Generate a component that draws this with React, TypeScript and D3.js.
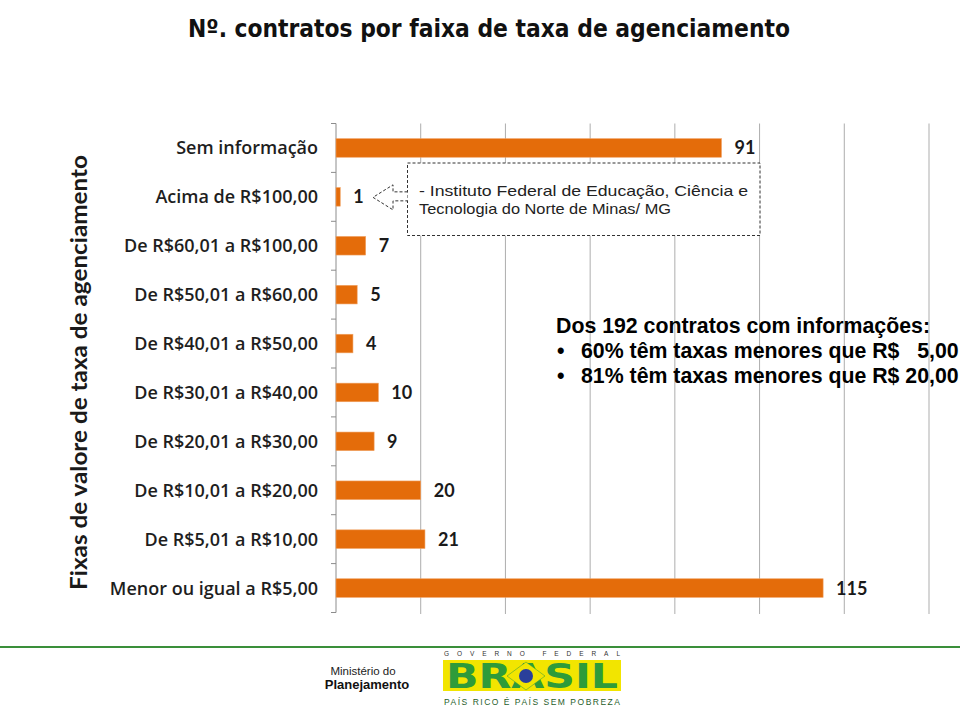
import React from "react";
import * as d3 from "d3";

const categories = [
  "Sem informação",
  "Acima de R$100,00",
  "De R$60,01 a R$100,00",
  "De R$50,01 a R$60,00",
  "De R$40,01 a R$50,00",
  "De R$30,01 a R$40,00",
  "De R$20,01 a R$30,00",
  "De R$10,01 a R$20,00",
  "De R$5,01 a R$10,00",
  "Menor ou igual a R$5,00",
];
const values = [91, 1, 7, 5, 4, 10, 9, 20, 21, 115];
const gridTicks = [0, 20, 40, 60, 80, 100, 120, 140];

const titleText = "Nº. contratos por faixa de taxa de agenciamento";
const axisTitle = "Fixas de valore de taxa de agenciamento";
const calloutLines = [
  "-  Instituto Federal de Educação, Ciência e",
  "Tecnologia do Norte de Minas/ MG",
];
const noteHeader = "Dos 192 contratos com informações:";
const noteBullets = [
  "60% têm taxas menores que R$\u00a0\u00a0 5,00",
  "81% têm taxas menores que R$ 20,00",
];

export default function App() {
  const x = d3.scaleLinear().domain([0, 140]).range([336, 929]);
  const y = d3
    .scaleBand<string>()
    .domain(categories)
    .range([123.5, 612.5])
    .paddingInner(0.62)
    .paddingOuter(0.31);
  const step = y.step();
  const boundaries = d3.range(categories.length + 1).map((i) => 123.5 + i * step);
  const barColor = "#E46C0A";
  const calloutIdx = 1;
  const cy = (y(categories[calloutIdx]) as number) + y.bandwidth() / 2;

  return (
    <svg
      width={960}
      height={706}
      style={{ position: "absolute", left: 0, top: 0, background: "#fff" }}
    >
      <rect x={0} y={0} width={960} height={706} fill="#fff" />
      {/* Title */}
      <text
        x={188}
        y={37}
        fontFamily="'DejaVu Sans Condensed', 'DejaVu Sans', sans-serif"
        fontWeight="bold"
        fontSize={24.5}
        textLength={602}
        lengthAdjust="spacingAndGlyphs"
        fill="#111"
      >
        {titleText}
      </text>

      {/* gridlines */}
      {gridTicks.slice(1).map((t) => (
        <line
          key={t}
          x1={x(t)}
          x2={x(t)}
          y1={123.5}
          y2={614}
          stroke="#adadad"
          strokeWidth={1}
        />
      ))}
      {/* axis */}
      <line x1={x(0)} x2={x(0)} y1={123.5} y2={612.5} stroke="#8c8c8c" strokeWidth={1} />
      {boundaries.map((b, i) => (
        <line key={i} x1={x(0) - 5} x2={x(0)} y1={b} y2={b} stroke="#8c8c8c" strokeWidth={1} />
      ))}

      {/* bars */}
      {categories.map((c, i) => (
        <rect
          key={c}
          x={x(0)}
          y={y(c) as number}
          width={x(values[i]) - x(0)}
          height={y.bandwidth()}
          fill={barColor}
          stroke="#F0A060"
          strokeWidth={0.6}
        />
      ))}
      {/* value labels */}
      {categories.map((c, i) => (
        <text
          key={c + "v"}
          x={x(values[i]) + 13}
          y={(y(c) as number) + y.bandwidth() / 2}
          dy="0.36em"
          fontFamily="Lato, sans-serif"
          fontWeight="bold"
          fontSize={18}
          fill="#1a1a1a"
        >
          {values[i]}
        </text>
      ))}
      {/* category labels */}
      {categories.map((c) => (
        <text
          key={c + "c"}
          x={318}
          y={(y(c) as number) + y.bandwidth() / 2}
          dy="0.36em"
          textAnchor="end"
          fontFamily="'Open Sans', sans-serif"
          fontWeight={600}
          fontSize={18}
          fill="#1e1e1e"
        >
          {c}
        </text>
      ))}
      {/* Y axis title */}
      <text
        transform={`translate(87, 372.5) rotate(-90)`}
        textAnchor="middle"
        fontFamily="Lato, sans-serif"
        fontWeight="bold"
        fontSize={22}
        textLength={435}
        lengthAdjust="spacingAndGlyphs"
        fill="#1a1a1a"
      >
        {axisTitle}
      </text>

      {/* Callout */}
      <rect
        x={407.5}
        y={163}
        width={352.5}
        height={72.5}
        fill="#fff"
        stroke="#333"
        strokeWidth={1}
        strokeDasharray="3,2"
      />
      <path
        d={`M407.5,${cy - 5} L393,${cy - 5} L393,${cy - 12} L373,${cy + 0.5} L393,${cy + 13} L393,${cy + 4} L407.5,${cy + 4}`}
        fill="#fff"
        stroke="#333"
        strokeWidth={1}
        strokeDasharray="3,2"
      />
      <text
        x={419}
        y={195.5}
        fontFamily="'Liberation Sans', Arial, sans-serif"
        fontSize={15}
        fill="#222"
        textLength={329}
        lengthAdjust="spacingAndGlyphs"
      >
        {calloutLines[0]}
      </text>
      <text
        x={419}
        y={214}
        fontFamily="'Liberation Sans', Arial, sans-serif"
        fontSize={15}
        fill="#222"
        textLength={252}
        lengthAdjust="spacingAndGlyphs"
      >
        {calloutLines[1]}
      </text>

      {/* Note */}
      <g fontFamily="'Liberation Sans', Arial, sans-serif" fontWeight="bold" fontSize={21.3} fill="#000">
        <text x={556} y={333}>{noteHeader}</text>
        {noteBullets.map((b, i) => (
          <g key={i}>
            <text x={557} y={358 + i * 25}>•</text>
            <text x={581} y={358 + i * 25}>{b}</text>
          </g>
        ))}
      </g>

      {/* Footer */}
      <line x1={0} x2={960} y1={647} y2={647} stroke="#3a8f3a" strokeWidth={2} />
      <text x={363} y={675} textAnchor="middle" fontFamily="'Liberation Sans', Arial, sans-serif" fontSize={11.5} fill="#222">
        Ministério do
      </text>
      <text
        x={367}
        y={689}
        textAnchor="middle"
        fontFamily="'Liberation Sans', Arial, sans-serif"
        fontWeight="bold"
        fontSize={13}
        fill="#111"
      >
        Planejamento
      </text>
      <text
        x={444}
        y={656}
        fontFamily="'Liberation Sans', Arial, sans-serif"
        fontSize={6.5}
        fill="#333"
        textLength={176}
        lengthAdjust="spacing"
      >
        GOVERNO FEDERAL
      </text>
      <rect x={443} y={660} width={178} height={31} fill="#F2E500" />
      <text
        transform="translate(446,688) scale(1,1.25)"
        x={0}
        y={0}
        fontFamily="'DejaVu Sans', sans-serif"
        fontWeight="bold"
        fontSize={27}
        fill="#2E9B3A"
        textLength={172}
        lengthAdjust="spacingAndGlyphs"
      >
        BRASIL
      </text>
      <polygon points="526,662 545,676 526,690 507,676" fill="#F2E500" stroke="#2E9B3A" strokeWidth={0.5} />
      <circle cx={526} cy={676} r={7} fill="#2A3F9B" />
      <text
        x={444}
        y={705}
        fontFamily="'Liberation Sans', Arial, sans-serif"
        fontSize={8.5}
        fill="#1f5e2a"
        textLength={176}
        lengthAdjust="spacing"
      >
        PAÍS RICO É PAÍS SEM POBREZA
      </text>
    </svg>
  );
}
